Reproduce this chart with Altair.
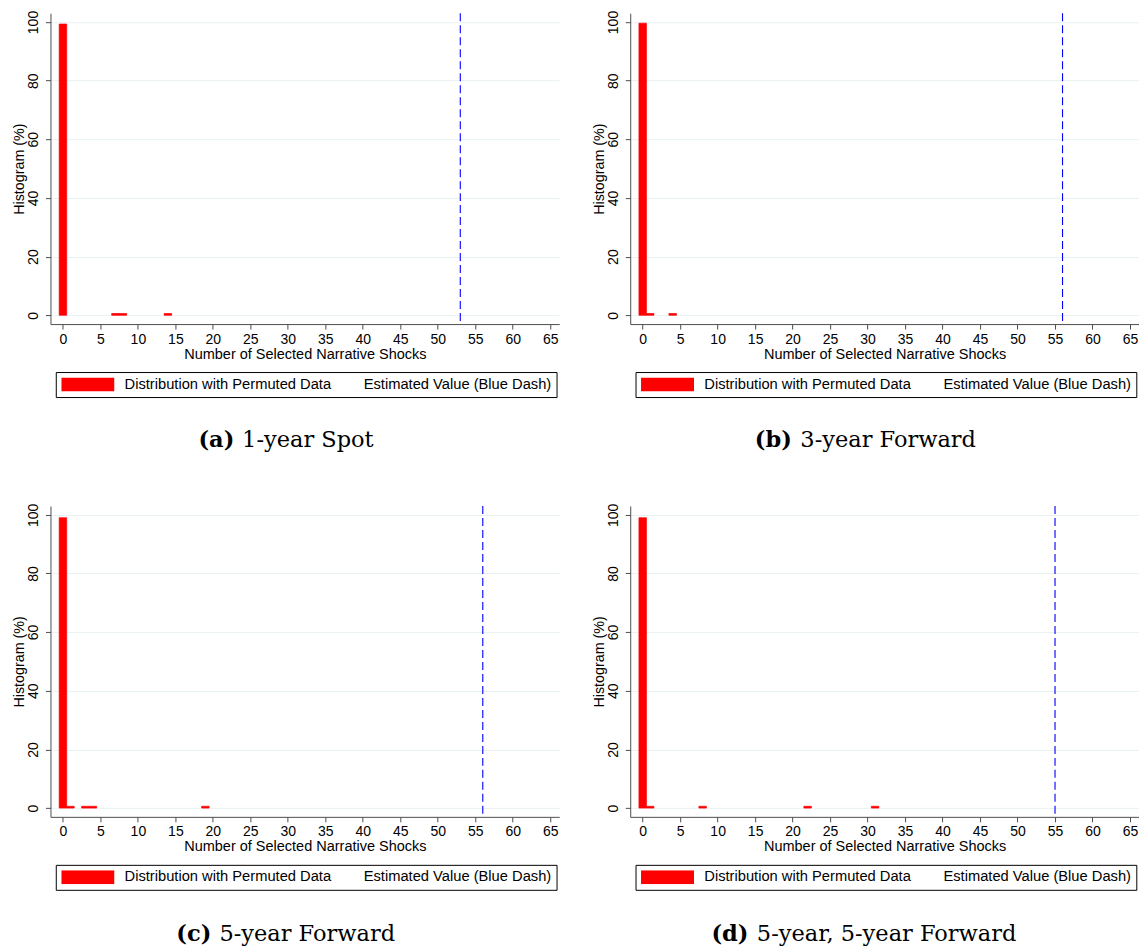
import altair as alt
import pandas as pd

# ---------------- data ----------------
tags = ["(a)", "(b)", "(c)", "(d)"]
names = ["1-year Spot", "3-year Forward", "5-year Forward", "5-year, 5-year Forward"]
shocks = [[0, 7, 8, 14], [0, 1, 4], [0, 1, 3, 4, 19], [0, 1, 8, 22, 31]]
percents = [[99.3, 0.6, 0.6, 0.6], [99.6, 0.6, 0.6], [99.0, 0.6, 0.6, 0.6, 0.6], [99.0, 0.6, 0.6, 0.6, 0.6]]
estimated = [53, 56, 56, 55]
x_ticks = list(range(0, 66, 5))
y_ticks = [0, 20, 40, 60, 80, 100]
legend_labels = ["Distribution with Permuted Data", "Estimated Value (Blue Dash)"]

# ---------------- layout / style ----------------
W, H = 509, 311
XDOM = [-1.66, 66.2]
YDOM = [-3, 103]
SANS = "Liberation Sans"
SERIF = "DejaVu Serif"
CAP_FS = 22.5
CAP_CX = 236
CAP_Y = [434, 434, 435, 435]
NBSP = "\u00a0"

DJ = {"(": .390, ")": .390, "-": .338, " ": .318, ",": .318, "y": .592, "e": .592, "a": .596,
      "r": .478, "S": .685, "p": .640, "o": .602, "t": .402, "F": .672, "w": .856, "d": .640}
DJ_B = {"(": .473, ")": .473, "a": .675, "b": .757, "c": .653, "d": .757}


def tw(s, table):
    return sum(table.get(ch, 0.636) for ch in s) * CAP_FS


legend_expr = "datum.label + '" + NBSP * 8 + legend_labels[1] + NBSP * 2 + "'"


def panel(i):
    df = pd.DataFrame({"shocks": shocks[i], "pct": percents[i], "series": legend_labels[0]})
    xscale = alt.Scale(domain=XDOM, nice=False, zero=False)
    yscale = alt.Scale(domain=YDOM, nice=False, zero=False)
    xaxis = alt.Axis(title="Number of Selected Narrative Shocks", values=x_ticks, grid=False,
                     tickSize=5, labelPadding=3, labelFontSize=14, titleFontSize=14.5,
                     titlePadding=1, domainColor="#4d4d4d", tickColor="#4d4d4d",
                     labelColor="black", titleColor="black", labelFont=SANS, titleFont=SANS,
                     titleFontWeight="normal", labelFlush=False, labelOverlap=False, format="d")
    yaxis = alt.Axis(title="Histogram (%)", values=y_ticks, grid=True, gridColor="#e9f1f3",
                     gridWidth=1, tickSize=5, labelAngle=270, labelAlign="center",
                     labelBaseline="bottom", labelPadding=5, labelFontSize=14, titleFontSize=14.3,
                     titlePadding=0, domainColor="#4d4d4d", tickColor="#4d4d4d",
                     labelColor="black", titleColor="black", labelFont=SANS, titleFont=SANS,
                     titleFontWeight="normal", labelOverlap=False, format="d")
    legend = alt.Legend(orient="none", legendX=5.3, legendY=359, direction="horizontal",
                        title=None, symbolType="M-1,-0.264H1V0.264H-1Z", symbolSize=2809,
                        clipHeight=14, labelOffset=10.3, padding=5.5,
                        strokeColor="black", fillColor="white", symbolStrokeWidth=0,
                        symbolOpacity=1, labelFontSize=14.7, labelFont=SANS, labelColor="black",
                        labelLimit=700, labelExpr=legend_expr)
    bars = alt.Chart(df).transform_calculate(
        lo="datum.shocks - 0.5", hi="datum.shocks + 0.5"
    ).mark_bar(stroke="#ff0000", strokeWidth=0.7, opacity=1).encode(
        x=alt.X("lo:Q", scale=xscale, axis=xaxis),
        x2="hi:Q",
        y=alt.Y("pct:Q", scale=yscale, axis=yaxis),
        y2=alt.datum(0),
        color=alt.Color("series:N",
                        scale=alt.Scale(domain=[legend_labels[0]], range=["#ff0000"]),
                        legend=legend),
    )
    rule = alt.Chart(pd.DataFrame({"est": [estimated[i]]})).mark_rule(
        color="#0000ff", strokeDash=[8, 4], strokeWidth=1.1
    ).encode(x=alt.X("est:Q", scale=xscale, axis=xaxis))

    wa = tw(tags[i], DJ_B)
    wsp = 0.318 * CAP_FS
    wn = tw(names[i], DJ)
    left = CAP_CX - (wa + wsp + wn) / 2
    cap_tag = alt.Chart(pd.DataFrame({"t": [tags[i]]})).mark_text(
        font=SERIF, fontSize=CAP_FS, fontWeight="bold", align="left", baseline="alphabetic",
        color="black"
    ).encode(text="t:N", x=alt.value(left), y=alt.value(CAP_Y[i]))
    cap_name = alt.Chart(pd.DataFrame({"t": [names[i]]})).mark_text(
        font=SERIF, fontSize=CAP_FS, align="left", baseline="alphabetic", color="black"
    ).encode(text="t:N", x=alt.value(left + wa + wsp), y=alt.value(CAP_Y[i]))

    return alt.layer(bars, rule, cap_tag, cap_name).properties(width=W, height=H)


panels = [panel(i) for i in range(4)]

chart = alt.concat(
    *panels, columns=2, spacing=alt.RowColnumber(row=182, column=71), bounds="flush"
).resolve_scale(color="independent").resolve_legend(color="independent").properties(
    padding={"left": 3.5, "top": 2, "right": 0, "bottom": 0}, background="white"
).configure_view(strokeWidth=0)

chart.save("out.html", embed_options={"renderer": "svg", "actions": False})
